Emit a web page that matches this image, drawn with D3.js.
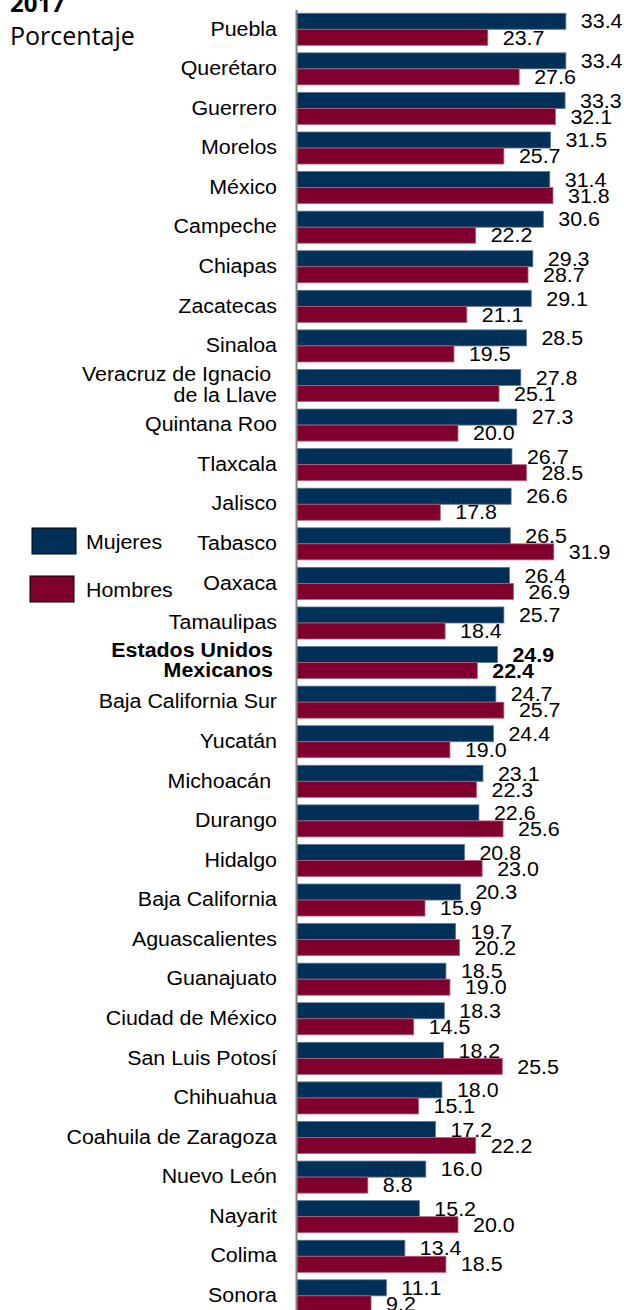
<!DOCTYPE html>
<html>
<head>
<meta charset="utf-8">
<script src="https://cdn.jsdelivr.net/npm/d3@7"></script>
<style>
  html, body { margin: 0; padding: 0; background: #fff; }
  svg { display: block; }
</style>
</head>
<body>
<svg id="chart" width="624" height="1310"></svg>
<script>
const categories = [
  "Puebla", "Querétaro", "Guerrero", "Morelos", "México", "Campeche", "Chiapas",
  "Zacatecas", "Sinaloa", "Veracruz de Ignacio\u00a0|de la Llave", "Quintana Roo", "Tlaxcala",
  "Jalisco", "Tabasco", "Oaxaca", "Tamaulipas", "Estados Unidos|Mexicanos",
  "Baja California Sur", "Yucatán", "Michoacán\u00a0", "Durango", "Hidalgo",
  "Baja California", "Aguascalientes", "Guanajuato", "Ciudad de México",
  "San Luis Potosí", "Chihuahua", "Coahuila de Zaragoza", "Nuevo León",
  "Nayarit", "Colima", "Sonora"
];
const mujeres = [
  33.4, 33.4, 33.3, 31.5, 31.4, 30.6, 29.3, 29.1, 28.5, 27.8, 27.3, 26.7, 26.6,
  26.5, 26.4, 25.7, 24.9, 24.7, 24.4, 23.1, 22.6, 20.8, 20.3, 19.7, 18.5, 18.3,
  18.2, 18.0, 17.2, 16.0, 15.2, 13.4, 11.1
];
const hombres = [
  23.7, 27.6, 32.1, 25.7, 31.8, 22.2, 28.7, 21.1, 19.5, 25.1, 20.0, 28.5, 17.8,
  31.9, 26.9, 18.4, 22.4, 25.7, 19.0, 22.3, 25.6, 23.0, 15.9, 20.2, 19.0, 14.5,
  25.5, 15.1, 22.2, 8.8, 20.0, 18.5, 9.2
];
const seriesNames = ["Mujeres", "Hombres"];
const seriesColors = ["#003057", "#7f002d"];
const seriesStrokes = ["#5b7595", "#b5637f"];
const titleText = "2017";
const subtitleText = "Porcentaje";
const highlight = "Estados Unidos|Mexicanos";

const svg = d3.select("#chart");
const FONT = "Arial, 'Liberation Sans', sans-serif";
const FS = 20;
const SX = 1.07;

const x = d3.scaleLinear().domain([0, 40]).range([297, 297 + 40 * 8.05]);
const y = d3.scaleBand().domain(categories).range([9.5, 9.5 + 33 * 39.58])
  .paddingInner(0.19).paddingOuter(0.095);
const ys = d3.scaleBand().domain(seriesNames).range([0, y.bandwidth()]);

const rows = categories.map((c, i) => ({ cat: c, vals: [mujeres[i], hombres[i]] }));

// bars
const g = svg.append("g");
rows.forEach(r => {
  seriesNames.forEach((s, si) => {
    g.append("rect")
      .attr("x", x(0))
      .attr("y", y(r.cat) + ys(s))
      .attr("width", x(r.vals[si]) - x(0))
      .attr("height", ys.bandwidth())
      .attr("fill", seriesColors[si])
      .attr("stroke", seriesStrokes[si])
      .attr("stroke-width", 0.8);
  });
});

// value labels
rows.forEach(r => {
  const bold = r.cat === highlight;
  seriesNames.forEach((s, si) => {
    const cx = x(r.vals[si]) + 15;
    const cy = y(r.cat) + ys(s) + ys.bandwidth() / 2;
    svg.append("text")
      .attr("transform", `translate(${cx},${cy}) scale(${SX},1)`)
      .attr("dy", "0.36em")
      .attr("font-family", FONT)
      .attr("font-size", FS)
      .attr("font-weight", bold ? "bold" : "normal")
      .attr("fill", "#000")
      .text(r.vals[si].toFixed(1));
  });
});

// axis
const axis = d3.axisLeft(y).tickSize(0).tickFormat("");
const ax = svg.append("g").attr("transform", "translate(296,0)").call(axis);
ax.select(".domain").attr("stroke", "#808080").attr("stroke-width", 2);

// category labels
rows.forEach(r => {
  const lines = r.cat.split("|");
  const bold = r.cat === highlight;
  const cy = y(r.cat) + y.bandwidth() / 2;
  const lh = 20.5;
  const rx = bold ? 273 : 277;
  lines.forEach((ln, li) => {
    const off = (li - (lines.length - 1) / 2) * lh + (bold ? -3 : -1);
    svg.append("text")
      .attr("transform", `translate(${rx},${cy + off}) scale(${SX},1)`)
      .attr("dy", "0.36em")
      .attr("text-anchor", "end")
      .attr("font-family", FONT)
      .attr("font-size", FS)
      .attr("font-weight", bold ? "bold" : "normal")
      .attr("fill", "#000")
      .text(ln);
  });
});

// legend
const legend = [
  { name: "Mujeres", rx: 32, ry: 528 },
  { name: "Hombres", rx: 30, ry: 576 }
];
legend.forEach((l, i) => {
  svg.append("rect")
    .attr("x", l.rx).attr("y", l.ry).attr("width", 44).attr("height", 26)
    .attr("fill", seriesColors[i]).attr("stroke", "#000").attr("stroke-width", 1);
  svg.append("text")
    .attr("transform", `translate(86,${l.ry + 14}) scale(${SX},1)`)
    .attr("dy", "0.36em")
    .attr("font-family", FONT)
    .attr("font-size", FS)
    .attr("fill", "#000")
    .text(l.name);
});

// title
svg.append("text")
  .attr("x", 10).attr("y", 12)
  .attr("font-family", "'Open Sans', 'Noto Sans', sans-serif")
  .attr("font-size", 24).attr("font-weight", "bold")
  .attr("fill", "#000")
  .text(titleText);
svg.append("text")
  .attr("x", 10).attr("y", 45)
  .attr("font-family", "'Open Sans', 'Noto Sans', sans-serif")
  .attr("font-size", 25)
  .attr("fill", "#000")
  .text(subtitleText);
</script>
</body>
</html>
